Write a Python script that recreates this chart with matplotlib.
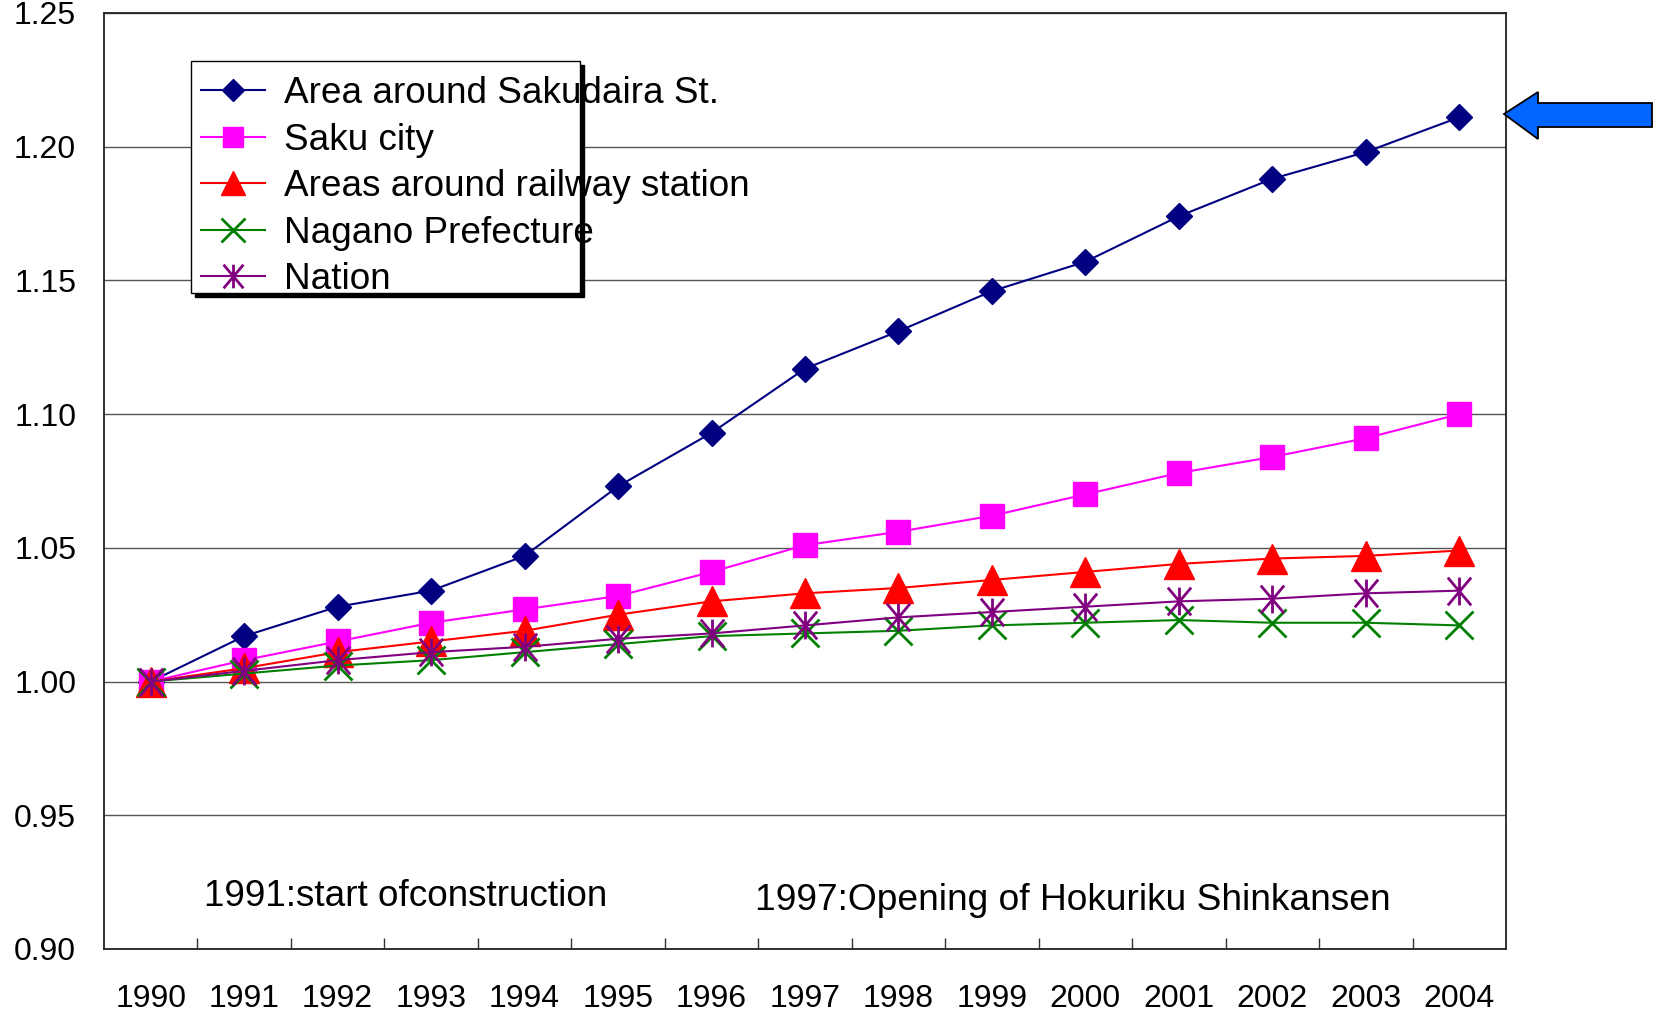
import matplotlib
matplotlib.use('Agg')
from matplotlib import pyplot as plt
from matplotlib.path import Path
from matplotlib.patches import Polygon, Rectangle
import numpy as np

plt.rcParams['font.family'] = ['Liberation Sans', 'DejaVu Sans']

years = ['1990', '1991', '1992', '1993', '1994', '1995', '1996', '1997',
         '1998', '1999', '2000', '2001', '2002', '2003', '2004']

sakudaira = [1.000, 1.017, 1.028, 1.034, 1.047, 1.073, 1.093, 1.117,
             1.131, 1.146, 1.157, 1.174, 1.188, 1.198, 1.211]
saku_city = [1.000, 1.008, 1.015, 1.022, 1.027, 1.032, 1.041, 1.051,
             1.056, 1.062, 1.070, 1.078, 1.084, 1.091, 1.100]
railway = [1.000, 1.005, 1.011, 1.015, 1.019, 1.025, 1.030, 1.033,
           1.035, 1.038, 1.041, 1.044, 1.046, 1.047, 1.049]
nagano = [1.000, 1.003, 1.006, 1.008, 1.011, 1.014, 1.017, 1.018,
          1.019, 1.021, 1.022, 1.023, 1.022, 1.022, 1.021]
nation = [1.000, 1.004, 1.008, 1.011, 1.013, 1.016, 1.018, 1.021,
          1.024, 1.026, 1.028, 1.030, 1.031, 1.033, 1.034]

labels = ['Area around Sakudaira St.', 'Saku city', 'Areas around railway station',
          'Nagano Prefecture', 'Nation']

# asterisk marker (x with a vertical bar)
star = Path([(-0.42, -0.5), (0.42, 0.5), (-0.42, 0.5), (0.42, -0.5), (0, -0.5), (0, 0.5)],
            [Path.MOVETO, Path.LINETO] * 3)

fig = plt.figure(figsize=(16.61, 10.15), dpi=100)
ax = fig.add_axes([104 / 1661, 66 / 1015, 1402 / 1661, 936 / 1015])

x = np.arange(len(years))
lw = 1.5
ax.plot(x, sakudaira, color='#000080', marker='D', markersize=13.5, linewidth=lw, label=labels[0], zorder=3)
ax.plot(x, saku_city, color='#FF00FF', marker='s', markersize=17, linewidth=lw, label=labels[1], zorder=3)
ax.plot(x, railway, color='#FF0000', marker='^', markersize=21, linewidth=lw, label=labels[2], zorder=3)
ax.plot(x, nagano, color='#008000', marker='x', markersize=20, markeredgewidth=2, linewidth=lw, label=labels[3], zorder=3)
ax.plot(x, nation, color='#800080', marker=star, markersize=20, markeredgewidth=2,
        markerfacecolor='none', linewidth=lw, label=labels[4], zorder=3)

ax.set_xlim(-0.5, len(years) - 0.5)
ax.set_ylim(0.90, 1.25)
ax.set_yticks(np.arange(0.90, 1.2501, 0.05))
ax.set_yticklabels(['%.2f' % v for v in np.arange(0.90, 1.2501, 0.05)], fontsize=23)
ax.set_xticks(x)
ax.set_xticklabels(years, fontsize=23)
ax.set_xticks(np.arange(0.5, len(years) - 1, 1.0), minor=True)
ax.tick_params(axis='x', which='major', length=0, pad=25)
ax.tick_params(axis='x', which='minor', direction='in', length=8, width=1, color='#333333')
ax.tick_params(axis='y', which='major', length=0, pad=20)
ax.grid(axis='y', color='#555555', linewidth=1)
ax.set_axisbelow(True)
for s in ax.spines.values():
    s.set_linewidth(1.3)
    s.set_color('#222222')

ax.text(0.57, 0.9195, '1991:start ofconstruction', fontsize=26.6, ha='left', va='center')
ax.text(6.47, 0.9180, '1997:Opening of Hokuriku Shinkansen', fontsize=26.7, ha='left', va='center')

# legend box (narrower than the text, with a black drop shadow)
bx, by, bw, bh = 0.0618, 0.9483 - 0.2479, 0.278, 0.2479
ax.add_patch(Rectangle((bx + 4 / 1402, by - 4 / 936), bw, bh, transform=ax.transAxes,
                       facecolor='black', edgecolor='black', zorder=4))
ax.add_patch(Rectangle((bx, by), bw, bh, transform=ax.transAxes,
                       facecolor='white', edgecolor='black', linewidth=1, zorder=4.1))

leg = ax.legend(loc='upper left', bbox_to_anchor=(0.058, 0.949), fontsize=26.6,
                frameon=False, handlelength=1.75, handletextpad=0.5, labelspacing=0.31,
                borderpad=0.42, borderaxespad=0, markerscale=0.85)
leg.set_zorder(5)

# blue arrow pointing at the Sakudaira line
W, H = 1661, 1015
pts = [(1504, 114), (1538, 92), (1538, 103), (1652, 103), (1652, 127), (1538, 127), (1538, 139)]
arrow = Polygon([(px / W, 1 - py / H) for px, py in pts], closed=True,
                transform=fig.transFigure, facecolor='#0066FF', edgecolor='black', linewidth=1.3)
fig.patches.append(arrow)

plt.savefig('out.png', dpi=100)
